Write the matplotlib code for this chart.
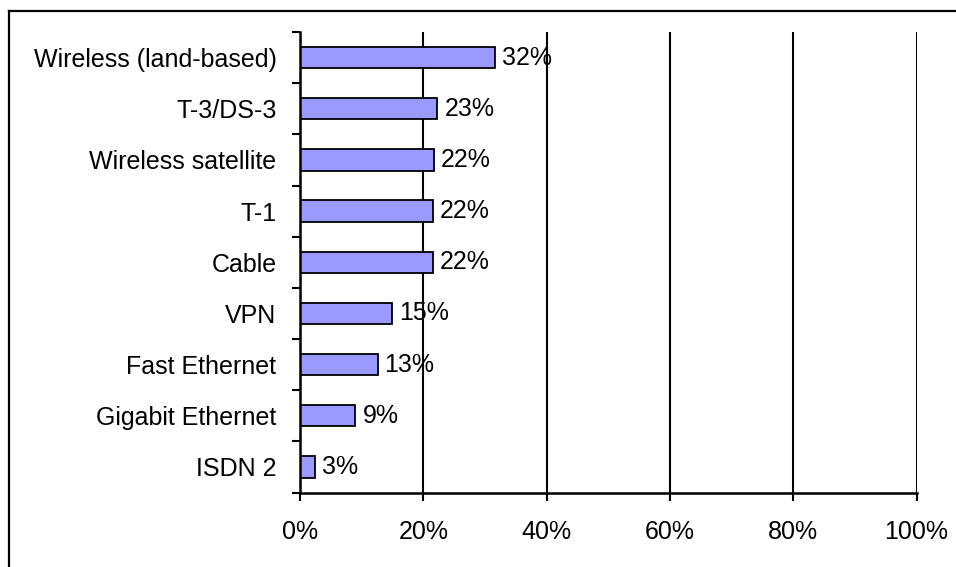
import numpy as np
import matplotlib
matplotlib.use("Agg")
import matplotlib.pyplot as plt
from matplotlib.lines import Line2D
from matplotlib.ticker import FixedLocator, PercentFormatter

# values (percent)
categories = ["Wireless (land-based)", "T-3/DS-3", "Wireless satellite", "T-1",
              "Cable", "VPN", "Fast Ethernet", "Gigabit Ethernet", "ISDN 2"]
shares = [31.7, 22.3, 21.7, 21.6, 21.6, 14.9, 12.6, 9.0, 2.5]
share_labels = ["32%", "23%", "22%", "22%", "22%", "15%", "13%", "9%", "3%"]
x_ticks = [0, 20, 40, 60, 80, 100]

plt.rcParams["font.family"] = ["Liberation Sans", "DejaVu Sans"]
plt.rcParams["font.size"] = 18

W, H = 956, 567
fig = plt.figure(figsize=(W / 100, H / 100), dpi=100)
ax = fig.add_axes([300 / W, 1 - 492.5 / H, 616.5 / W, 460.5 / H])

y = np.arange(len(categories))
ax.barh(y, shares, height=0.42, color="#9999FF", edgecolor="black",
        linewidth=1.3, zorder=3)
for yi, v, lab in zip(y, shares, share_labels):
    ax.annotate(lab, (v, yi), xytext=(5, 0), textcoords="offset points",
                va="center", ha="left", fontsize=18, zorder=4)

ax.set_xlim(0, 100)
ax.set_ylim(len(categories) - 0.5, -0.5)

ax.set_xticks(x_ticks)
ax.xaxis.set_major_formatter(PercentFormatter(decimals=0))
ax.grid(axis="x", color="black", linewidth=1.5, zorder=1)
ax.tick_params(axis="x", direction="out", length=6, width=1.5, pad=14,
               labelsize=18)

ax.set_yticks(y)
ax.set_yticklabels(categories)
ax.yaxis.set_minor_locator(FixedLocator(np.arange(-0.5, len(categories), 1.0)))
ax.tick_params(axis="y", which="major", length=0, pad=17, labelsize=18)
ax.tick_params(axis="y", which="minor", direction="out", length=6, width=1.5)

for side in ["top", "right"]:
    ax.spines[side].set_visible(False)
for side in ["left", "bottom"]:
    ax.spines[side].set_linewidth(1.8)
    ax.spines[side].set_zorder(5)

# outer chart border (only left and top fall inside the picture)
fig.add_artist(Line2D([9 / W, 9 / W], [0, 1 - 11 / H], color="black",
                      linewidth=1.6, transform=fig.transFigure))
fig.add_artist(Line2D([9 / W, 1], [1 - 11 / H, 1 - 11 / H], color="black",
                      linewidth=1.6, transform=fig.transFigure))

fig.savefig("out.png", dpi=100)
